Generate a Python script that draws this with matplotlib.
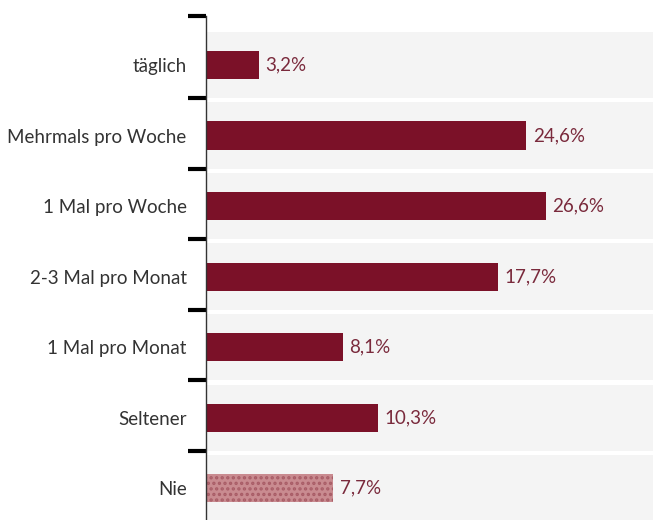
import matplotlib
matplotlib.use("Agg")
import matplotlib.pyplot as plt
import numpy as np

categories = ["täglich", "Mehrmals pro Woche", "1 Mal pro Woche", "2-3 Mal pro Monat",
              "1 Mal pro Monat", "Seltener", "Nie"]
values = [3.2, 24.6, 26.6, 17.7, 8.1, 10.3, 7.7]
# bar lengths as drawn in the reference (its scale is compressed for the two longest bars)
bar_lengths = [3.2, 19.4, 20.6, 17.7, 8.3, 10.4, 7.7]
value_labels = ["3,2%", "24,6%", "26,6%", "17,7%", "8,1%", "10,3%", "7,7%"]

plt.rcParams['font.family'] = ['Lato', 'DejaVu Sans']
plt.rcParams['hatch.linewidth'] = 1.6

W, H = 653, 520
fig = plt.figure(figsize=(W/100, H/100), dpi=100)
ax = fig.add_axes([206/W, 0, 1 - 206/W, 1 - 16/H])

n = len(categories)
y = np.arange(n)
bar_color = "#7b1128"
colors = [bar_color] * (n - 1) + ["#c98b90"]

# gray row bands
for i in y:
    ax.add_patch(plt.Rectangle((0, i - 0.47), 40, 0.94, facecolor="#f4f4f4",
                               edgecolor="none", zorder=0))

bars = ax.barh(y, bar_lengths, height=0.4, color=colors, edgecolor="none", zorder=2)
bars[-1].set_hatch("...")
bars[-1].set_edgecolor("#a85c66")
bars[-1].set_linewidth(0)

for i, (b, lab) in enumerate(zip(bar_lengths, value_labels)):
    ax.text(b + 0.4, i, lab, va="center", ha="left", fontsize=13.5,
            color="#7a2a3c", zorder=3)

ax.set_xlim(0, (W - 206) / 16.5)
ax.set_ylim(6.45, -0.695)

for s in ["top", "right", "bottom"]:
    ax.spines[s].set_visible(False)
ax.spines["left"].set_color("#333333")
ax.spines["left"].set_linewidth(1.0)
ax.set_xticks([])

ax.set_yticks([-0.695] + list(y[:-1] + 0.47))
ax.set_yticklabels([])
ax.tick_params(axis="y", which="major", length=13, width=3, color="black", direction="out")

ax.set_yticks(y, minor=True)
ax.set_yticklabels(categories, minor=True, fontsize=13.5, color="#333333")
ax.tick_params(axis="y", which="minor", length=0, pad=14)

fig.savefig("out.png", dpi=100, facecolor="white")
